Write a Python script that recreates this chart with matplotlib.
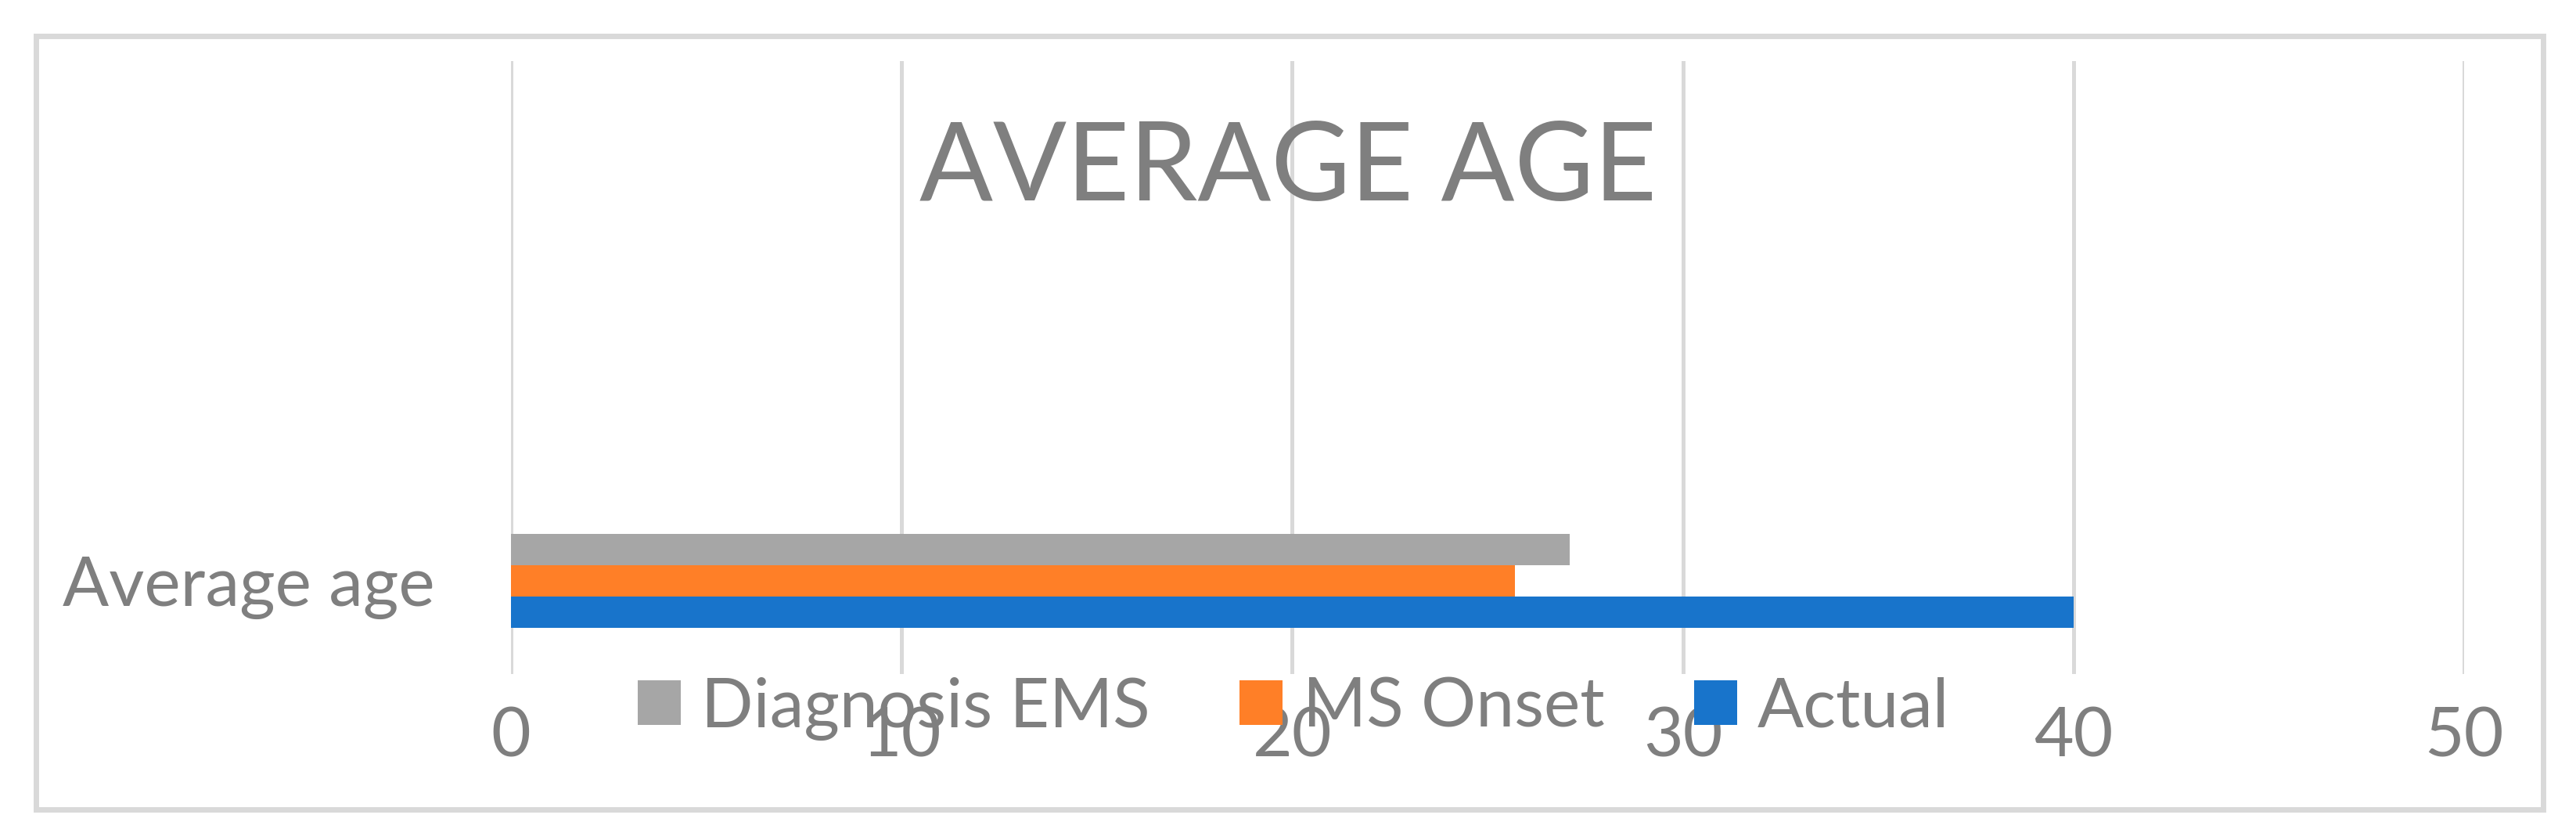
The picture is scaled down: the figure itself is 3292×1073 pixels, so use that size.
import matplotlib
matplotlib.use("Agg")
import matplotlib.pyplot as plt
from matplotlib.patches import Rectangle, Patch

categories = ["Average age"]
series_names = ["Actual", "MS Onset", "Diagnosis EMS"]
series_values = [[40.0], [25.7], [27.1]]
series_colors = ["#1874CB", "#FF7F27", "#A6A6A6"]
x_ticks = [0, 10, 20, 30, 40, 50]
title = "AVERAGE AGE"

plt.rcParams['font.family'] = ['Lato', 'DejaVu Sans']
TXT = "#7F7F7F"
GRID = "#D9D9D9"

W, H = 3292, 1073
fig = plt.figure(figsize=(W / 100, H / 100), dpi=100)
fig.patch.set_facecolor("white")

# outer border
fig.add_artist(Rectangle((46 / W, 1 - 1034 / H), (3250 - 46) / W, (1034 - 46) / H,
                         transform=fig.transFigure, fill=False, edgecolor=GRID, linewidth=5))

ax = fig.add_axes([653 / W, 1 - 861 / H, (3149 - 653) / W, (861 - 78) / H])

bar_h = 1.0
offsets = [-1, 0, 1]
for name, vals, col, off in zip(series_names, series_values, series_colors, offsets):
    ypos = [i + off * bar_h for i in range(len(categories))]
    ax.barh(ypos, vals, height=bar_h, color=col, label=name, zorder=3)

R = bar_h / 0.051
lo = -1.5 * bar_h - 0.075 * R
ax.set_ylim(lo, lo + R)
ax.set_xlim(x_ticks[0], x_ticks[-1])
ax.set_xticks(x_ticks)
ax.set_yticks(range(len(categories)))
ax.set_yticklabels(categories)
ax.xaxis.grid(True, color=GRID, linewidth=3.6, zorder=0)
ax.yaxis.grid(False)
for s in ax.spines.values():
    s.set_visible(False)
ax.tick_params(axis='both', length=0, colors=TXT, labelsize=63)
ax.tick_params(axis='x', pad=30)
ax.tick_params(axis='y', pad=70)

fig.text(1646 / W, 1 - 256 / H, title, ha='center', va='baseline', color=TXT, fontsize=100)

handles = [Patch(facecolor=c, edgecolor='none') for c in series_colors[::-1]]
labels = series_names[::-1]
fig.legend(handles, labels, loc='center', bbox_to_anchor=(1653 / W, 1 - 905 / H),
           ncol=3, frameon=False, fontsize=63, labelcolor=TXT,
           handlelength=0.63, handleheight=0.63, handletextpad=0.3,
           columnspacing=1.3, borderpad=0, borderaxespad=0)

fig.savefig("out.png", dpi=100, facecolor="white")
